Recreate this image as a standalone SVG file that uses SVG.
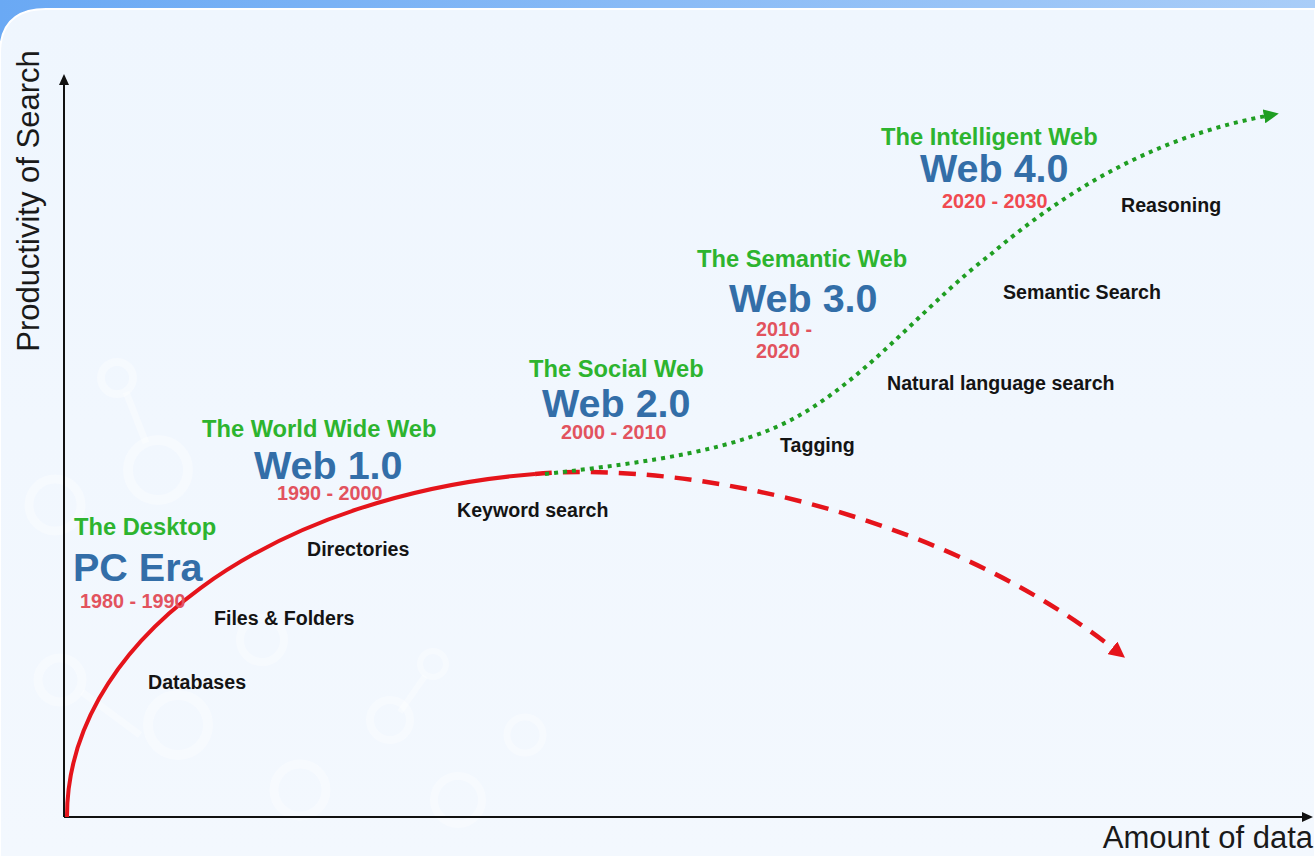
<svg xmlns="http://www.w3.org/2000/svg" width="1315" height="857" viewBox="0 0 1315 857">
<defs>
<linearGradient id="topbar" x1="0" y1="0" x2="1" y2="0">
<stop offset="0" stop-color="#6aa9f4"/>
<stop offset="1" stop-color="#a9cdf8"/>
</linearGradient>
<linearGradient id="panel" x1="0" y1="0" x2="0" y2="1">
<stop offset="0" stop-color="#eff6fe"/>
<stop offset="1" stop-color="#f3f8fe"/>
</linearGradient>
<marker id="ahBlack" markerUnits="userSpaceOnUse" markerWidth="12" markerHeight="10" refX="1" refY="5" orient="auto">
<path d="M0,0 L11,5 L0,10 z" fill="#111"/>
</marker>
<marker id="ahRed" markerUnits="userSpaceOnUse" markerWidth="18" markerHeight="16" refX="2" refY="8" orient="auto">
<path d="M0,0 L16,8 L0,16 z" fill="#e5141b"/>
</marker>
<marker id="ahGreen" markerUnits="userSpaceOnUse" markerWidth="16" markerHeight="14" refX="2" refY="7" orient="auto">
<path d="M0,0 L15,7 L0,14 z" fill="#1f9e22"/>
</marker>
<style>
.t{font-family:"Liberation Sans",Arial,sans-serif;font-weight:bold}
.title{fill:#2db42f;font-size:23.7px}
.web{fill:#336ea8;font-size:39.5px}
.yr{fill:#e2535e;font-size:19.8px}
.lbl{fill:#141414;font-size:19.6px}
.axis{font-family:"Liberation Sans",Arial,sans-serif;font-size:31px;fill:#1a1a1a}
.ring{fill:none;stroke:#ffffff;stroke-opacity:0.35}
</style>
</defs>

<g id="background">
<rect x="0" y="0" width="1315" height="857" fill="url(#topbar)"/>
<path d="M0,54 Q0,9 46,9 L1315,9 L1315,857 L0,857 Z" fill="url(#panel)" stroke="#ffffff" stroke-width="2"/>
<g id="decor" class="ring">
<circle cx="117" cy="378" r="16" stroke-width="8"/>
<circle cx="158" cy="470" r="30" stroke-width="10"/>
<line x1="126" y1="392" x2="146" y2="443" stroke-width="7"/>
<circle cx="55" cy="505" r="26" stroke-width="9"/>
<circle cx="60" cy="680" r="22" stroke-width="9"/>
<line x1="82" y1="692" x2="140" y2="735" stroke-width="7"/>
<circle cx="178" cy="725" r="30" stroke-width="10"/>
<circle cx="262" cy="640" r="22" stroke-width="8"/>
<circle cx="433" cy="664" r="13" stroke-width="6"/>
<line x1="425" y1="676" x2="400" y2="712" stroke-width="6"/>
<circle cx="390" cy="720" r="20" stroke-width="8"/>
<circle cx="300" cy="790" r="26" stroke-width="9"/>
<circle cx="525" cy="735" r="18" stroke-width="7"/>
<circle cx="458" cy="800" r="24" stroke-width="8"/>
</g>
</g>

<g id="axes" fill="none" stroke="#111" stroke-width="2">
<line x1="64" y1="817" x2="64" y2="84" marker-end="url(#ahBlack)"/>
<line x1="64" y1="817" x2="1303" y2="817" marker-end="url(#ahBlack)"/>
</g>
<text class="axis" transform="translate(39,201) rotate(-90)" text-anchor="middle">Productivity of Search</text>
<text class="axis" x="1313" y="848" text-anchor="end">Amount of data</text>

<g id="connectors" fill="none">
<path id="curve-solid" d="M67,817 A533,345 0 0 1 535,474" stroke="#e5141b" stroke-width="4"/>
<path id="curve-decline" d="M535,474 C700,460 950,520 1114,649" stroke="#e5141b" stroke-width="4.5" stroke-dasharray="17 11" marker-end="url(#ahRed)"/>
<path id="curve-growth" d="M545,474 C650,462 740,450 800,415 C870,375 930,300 990,255 C1060,195 1150,138 1266,116" stroke="#1f9e22" stroke-width="4" stroke-dasharray="4 5" marker-end="url(#ahGreen)"/>
</g>

<g id="pc-era" class="t">
<text class="title" x="74" y="535">The Desktop</text>
<text class="web" x="73" y="581">PC Era</text>
<text class="yr" x="80" y="608">1980 - 1990</text>
</g>
<g id="web-1" class="t">
<text class="title" x="202" y="437">The World Wide Web</text>
<text class="web" x="254" y="479">Web 1.0</text>
<text class="yr" x="277" y="500">1990 - 2000</text>
</g>
<g id="web-2" class="t">
<text class="title" x="529" y="377">The Social Web</text>
<text class="web" x="542" y="417">Web 2.0</text>
<text class="yr" x="561" y="439">2000 - 2010</text>
</g>
<g id="web-3" class="t">
<text class="title" x="697" y="267">The Semantic Web</text>
<text class="web" x="729" y="312">Web 3.0</text>
<text class="yr" x="756" y="336">2010 -</text>
<text class="yr" x="756" y="358">2020</text>
</g>
<g id="web-4" class="t">
<text class="title" x="881" y="145">The Intelligent Web</text>
<text class="web" x="920" y="182">Web 4.0</text>
<text class="yr" x="942" y="208" style="fill:#f04a50">2020 - 2030</text>
</g>

<g id="labels" class="t">
<text class="lbl" x="148" y="689">Databases</text>
<text class="lbl" x="214" y="625">Files &amp; Folders</text>
<text class="lbl" x="307" y="556">Directories</text>
<text class="lbl" x="457" y="517">Keyword search</text>
<text class="lbl" x="780" y="452">Tagging</text>
<text class="lbl" x="887" y="390">Natural language search</text>
<text class="lbl" x="1003" y="299">Semantic Search</text>
<text class="lbl" x="1121" y="212">Reasoning</text>
</g>
</svg>
